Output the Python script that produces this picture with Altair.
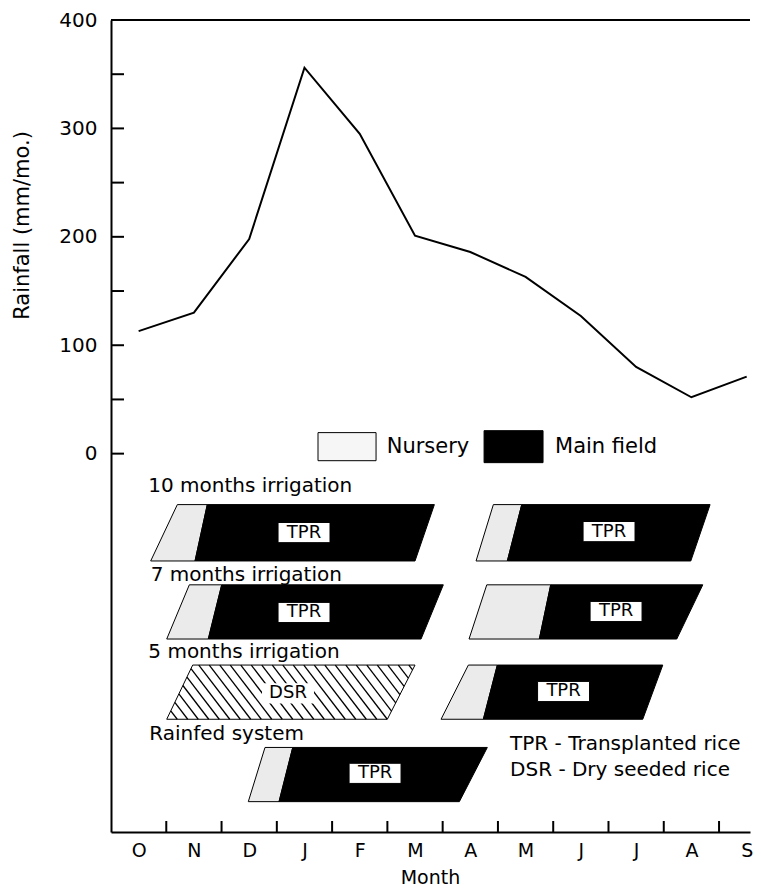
import json
import numpy as np
import pandas as pd
import altair as alt

FONT = "DejaVu Sans"

# ---------------- data ----------------
months = ["O", "N", "D", "J", "F", "M", "A", "M", "J", "J", "A", "S"]
rainfall = [113, 130, 198, 356, 295, 201, 186, 163, 127, 80, 52, 71]

# cropping-system rows (placed below the rainfall zero line, in axis units)
row_names = ["10 months irrigation", "7 months irrigation",
             "5 months irrigation", "Rainfed system"]
row_top = [-47, -121, -195, -271]
row_bottom = [-99, -171, -245, -321]
row_label_x = [0.675, 0.718, 0.675, 0.693]
row_label_y = [-29.5, -112.4, -183.1, -258.3]

# crop segments (months counted from start of October)
seg_row = [0, 0, 0, 0, 1, 1, 1, 1, 2, 2, 2, 3, 3]
seg_kind = ["Nursery", "Main field", "Nursery", "Main field",
            "Nursery", "Main field", "Nursery", "Main field",
            "DSR", "Nursery", "Main field",
            "Nursery", "Main field"]
seg_top_start = [1.200, 1.742, 6.917, 7.431, 1.417, 2.003, 6.798, 7.955, 1.478, 6.465, 6.989, 2.786, 3.288]
seg_top_end = [1.742, 5.850, 7.431, 10.838, 2.003, 6.012, 7.955, 10.706, 5.500, 6.989, 9.982, 3.288, 6.808]
seg_bot_start = [0.718, 1.520, 6.604, 7.170, 1.008, 1.760, 6.477, 7.749, 1.008, 5.971, 6.736, 2.484, 3.040]
seg_bot_end = [1.520, 5.500, 7.170, 10.489, 1.760, 5.609, 7.749, 10.235, 4.999, 6.736, 9.620, 3.040, 6.302]

crop_label = ["TPR", "TPR", "TPR", "TPR", "DSR", "TPR", "TPR"]
crop_label_x = [3.492, 9.010, 3.492, 9.137, 3.202, 8.187, 4.777]
crop_label_y = [-72.8, -71.9, -146.5, -145.6, -221.2, -219.4, -294.9]

legend_labels = ["Nursery", "Main field"]
legend_x0 = [3.745, 6.749]
legend_x1 = [4.795, 7.816]
legend_y0 = [19.4, 21.2]
legend_y1 = [-6.5, -8.3]
legend_text_x = [4.988, 8.033]
legend_text_y = [5.8, 6.5]

notes = ["TPR - Transplanted rice", "DSR - Dry seeded rice"]
note_x = [7.219, 7.219]
note_y = [-267.6, -292.2]

y_ticks = list(range(0, 401, 50))
month_bounds = list(range(1, 12))

# ---------------- layout / style ----------------
W, H = 639, 812
X_MAX = 11.56
Y_MIN, Y_MAX = -349, 400
BOX_HW, BOX_HH = 0.47, 9.3          # label box half-size (axis units)
HATCH_STEP, HATCH_SHIFT = 0.19, 0.75

xscale = alt.Scale(domain=[0, X_MAX], nice=False, zero=False)
yscale = alt.Scale(domain=[Y_MIN, Y_MAX], nice=False, zero=False)

xaxis = alt.Axis(
    values=[i + 0.5 for i in range(len(months))],
    labelExpr=json.dumps(months) + "[floor(datum.value)]",
    ticks=False, tickSize=0, grid=False,
    domainColor="black", domainWidth=2,
    labelColor="black", labelFont=FONT, labelFontSize=19, labelPadding=9,
    labelFlush=False, labelOverlap=False,
    title="Month", titleFont=FONT, titleFontSize=19, titleFontWeight="normal",
    titleColor="black", titlePadding=8, titleX=319,
)
yaxis = alt.Axis(
    values=y_ticks,
    labelExpr="datum.value % 100 === 0 ? datum.label : ''",
    ticks=False, tickSize=0, grid=False,
    domainColor="black", domainWidth=2,
    labelColor="black", labelFont=FONT, labelFontSize=20, labelPadding=14,
    title="Rainfall (mm/mo.)", titleFont=FONT, titleFontSize=21,
    titleFontWeight="normal", titleColor="black",
    titleX=-89, titleY=205, titleAngle=270, titleAlign="center", titleBaseline="middle",
)


def X(f):
    return alt.X(f, type="quantitative", scale=xscale, axis=xaxis)


def Y(f):
    return alt.Y(f, type="quantitative", scale=yscale, axis=yaxis)


# ---------------- tables ----------------
line_df = pd.DataFrame({"m": [i + 0.5 for i in range(len(months))], "rain": rainfall})

area_rows = []
for i in range(len(seg_kind)):
    r = seg_row[i]
    area_rows.append({"id": i, "kind": seg_kind[i], "y": row_top[r], "x": seg_top_start[i], "x2": seg_top_end[i]})
    area_rows.append({"id": i, "kind": seg_kind[i], "y": row_bottom[r], "x": seg_bot_start[i], "x2": seg_bot_end[i]})
area_df = pd.DataFrame(area_rows)

# hatch pattern inside the dry-seeded-rice shape
k = seg_kind.index("DSR")
L0, L1 = seg_top_start[k], seg_bot_start[k]
R0, R1 = seg_top_end[k], seg_bot_end[k]
yt, yb = row_top[seg_row[k]], row_bottom[seg_row[k]]
hatch = []
for m0 in np.arange(L1 - HATCH_SHIFT, R0, HATCH_STEP):
    t0 = max(0.0, (L0 - m0) / (HATCH_SHIFT - (L1 - L0)))
    t1 = min(1.0, (R0 - m0) / (HATCH_SHIFT - (R1 - R0)))
    if t1 > t0:
        hatch.append({"x": m0 + HATCH_SHIFT * t0, "y": yt + (yb - yt) * t0,
                      "x2": m0 + HATCH_SHIFT * t1, "y2": yt + (yb - yt) * t1})
hatch_df = pd.DataFrame(hatch)

box_df = pd.DataFrame({
    "label": crop_label,
    "x": [v - BOX_HW for v in crop_label_x], "x2": [v + BOX_HW for v in crop_label_x],
    "y": [v + BOX_HH for v in crop_label_y], "y2": [v - BOX_HH for v in crop_label_y],
    "cx": crop_label_x, "cy": crop_label_y,
})
box_df["sw"] = [1 if l == "TPR" else 0 for l in crop_label]

row_df = pd.DataFrame({"t": row_names, "x": row_label_x, "y": row_label_y})
note_df = pd.DataFrame({"t": notes, "x": note_x, "y": note_y})
leg_df = pd.DataFrame({"t": legend_labels, "x": legend_x0, "x2": legend_x1,
                       "y": legend_y0, "y2": legend_y1,
                       "tx": legend_text_x, "ty": legend_text_y})
ytick_df = pd.DataFrame({"v": y_ticks})
xtick_df = pd.DataFrame({"b": month_bounds})
top_df = pd.DataFrame({"v": [Y_MAX]})

# ---------------- layers ----------------
line = alt.Chart(line_df).mark_line(color="black", strokeWidth=2).encode(
    x=X("m"), y=Y("rain"))

areas = alt.Chart(area_df).mark_area(orient="horizontal", stroke="black", strokeWidth=1).encode(
    y=Y("y"), x=X("x"), x2=alt.X2("x2"), detail="id:N",
    color=alt.Color("kind:N", legend=None,
                    scale=alt.Scale(domain=["Nursery", "Main field", "DSR"],
                                    range=["#ebebeb", "#000000", "#ffffff"])),
)

hatches = alt.Chart(hatch_df).mark_rule(color="black", strokeWidth=1.3).encode(
    x=X("x"), y=Y("y"), x2=alt.X2("x2"), y2=alt.Y2("y2"))

boxes = alt.Chart(box_df).mark_rect(fill="white", stroke="black").encode(
    x=X("x"), x2=alt.X2("x2"), y=Y("y"), y2=alt.Y2("y2"),
    strokeWidth=alt.StrokeWidth("sw:Q", scale=None, legend=None))

box_text = alt.Chart(box_df).mark_text(font=FONT, fontSize=18, color="black").encode(
    x=X("cx"), y=Y("cy"), text="label:N")

row_text = alt.Chart(row_df).mark_text(font=FONT, fontSize=20, color="black",
                                       align="left", baseline="middle").encode(
    x=X("x"), y=Y("y"), text="t:N")

note_text = alt.Chart(note_df).mark_text(font=FONT, fontSize=20, color="black",
                                         align="left", baseline="middle").encode(
    x=X("x"), y=Y("y"), text="t:N")

leg_box = alt.Chart(leg_df).mark_rect(stroke="black", strokeWidth=1).encode(
    x=X("x"), x2=alt.X2("x2"), y=Y("y"), y2=alt.Y2("y2"),
    fill=alt.Fill("t:N", legend=None,
                  scale=alt.Scale(domain=legend_labels, range=["#f6f6f6", "#000000"])),
    strokeDash=alt.StrokeDash("t:N", legend=None,
                              scale=alt.Scale(domain=legend_labels, range=[[3, 2], [1, 0]])),
)
leg_text = alt.Chart(leg_df).mark_text(font=FONT, fontSize=21, color="black",
                                       align="left", baseline="middle").encode(
    x=X("tx"), y=Y("ty"), text="t:N")

yticks = alt.Chart(ytick_df).mark_rule(color="black", strokeWidth=2).encode(
    y=Y("v"), x=alt.value(0), x2=alt.value(13))
xticks = alt.Chart(xtick_df).mark_rule(color="black", strokeWidth=2).encode(
    x=X("b"), y=alt.value(H), y2=alt.value(H - 11))
top = alt.Chart(top_df).mark_rule(color="black", strokeWidth=2).encode(
    y=Y("v"), x=alt.value(0), x2=alt.value(W))

chart = alt.layer(
    line, areas, hatches, boxes, box_text, row_text, note_text, leg_box, leg_text,
    yticks, xticks, top,
).properties(
    width=W, height=H,
    autosize=alt.AutoSizeParams(type="none"),
    padding={"left": 103, "top": 12, "right": 3, "bottom": 58},
).configure(background="white").configure_view(strokeWidth=0, stroke="transparent")

chart.save("out.html", embed_options={"renderer": "svg", "actions": False})
